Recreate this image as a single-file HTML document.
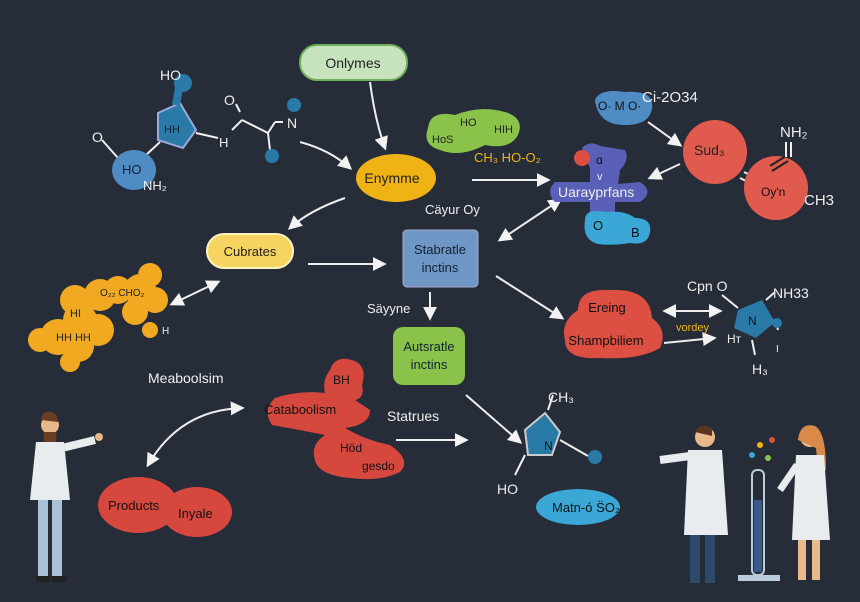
<!DOCTYPE html>
<html><head><meta charset="utf-8"><style>
html,body{margin:0;padding:0;background:#262d39;}
svg{display:block;font-family:"Liberation Sans",sans-serif;}
</style></head><body>
<svg width="860" height="602" viewBox="0 0 860 602" xmlns="http://www.w3.org/2000/svg">
<defs>
<marker id="a" viewBox="0 0 10 10" refX="8" refY="5" markerWidth="7" markerHeight="7" orient="auto-start-reverse"><path d="M0,0 L10,5 L0,10 z" fill="#f2f2f2"/></marker>
</defs>
<rect width="860" height="602" fill="#262d39"/>
<g stroke="#eee" stroke-width="2" fill="none" marker-end="url(#a)">
<path d="M370,82 Q375,120 385,148"/>
<path d="M300,142 Q330,150 350,168"/>
<path d="M345,198 Q310,210 290,228"/>
<path d="M472,180 L548,180"/>
<path d="M308,264 L384,264"/>
<path d="M430,292 L430,318"/>
<path d="M496,276 L562,318"/>
<path d="M665,311 L720,311" marker-start="url(#a)"/>
<path d="M664,343 L714,338"/>
<path d="M500,240 Q530,220 560,200" marker-start="url(#a)"/>
<path d="M172,304 L218,282" marker-start="url(#a)"/>
<path d="M242,408 Q180,410 148,465" marker-start="url(#a)"/>
<path d="M396,440 L466,440"/>
<path d="M466,395 L520,442"/>
<path d="M648,122 L680,145"/>
<path d="M680,164 L650,178"/>
</g>
<line x1="744" y1="172" x2="760" y2="180" stroke="#eee" stroke-width="2"/>
<line x1="740" y1="178" x2="756" y2="186" stroke="#eee" stroke-width="2"/>
<!-- Onlymes -->
<rect x="300" y="45" width="107" height="35" rx="17" fill="#c7e3bd" stroke="#6fae5a" stroke-width="2"/>
<text x="353" y="68" font-size="14" text-anchor="middle" fill="#222">Onlymes</text>
<ellipse cx="396" cy="178" rx="40" ry="24" fill="#f0b315"/>
<text x="392" y="183" font-size="14" text-anchor="middle" fill="#222">Enymme</text>
<text x="425" y="214" font-size="13" fill="#eee">Cäyur Oy</text>
<!-- HoS HIH -->
<path d="M428,128 Q430,110 455,115 Q480,105 505,112 Q525,118 518,135 Q510,150 485,145 Q460,158 440,150 Q422,145 428,128z" fill="#8bc34a"/>
<text x="432" y="143" font-size="11" fill="#222">HoS</text><text x="460" y="126" font-size="11" fill="#222">HO</text><text x="494" y="133" font-size="11" fill="#222">HIH</text>
<text x="474" y="162" font-size="13" fill="#f0b315">CH₃ HO-O₂</text>
<!-- top left molecule -->
<g stroke="#eee" stroke-width="2" fill="none">
<line x1="102" y1="140" x2="118" y2="158"/><line x1="146" y1="155" x2="160" y2="142"/>
<line x1="196" y1="133" x2="218" y2="138"/><line x1="232" y1="130" x2="242" y2="120"/>
<line x1="240" y1="112" x2="236" y2="104"/><line x1="242" y1="120" x2="268" y2="133"/>
<line x1="268" y1="133" x2="275" y2="122"/><line x1="275" y1="122" x2="283" y2="122"/>
<line x1="268" y1="133" x2="270" y2="150"/>
</g>
<path d="M158,113 L180,103 L196,130 L183,148 L158,140 z" fill="#2a7aa8" stroke="#9ad" stroke-width="2"/>
<path d="M176,105 L180,82" stroke="#2a7aa8" stroke-width="8"/>
<circle cx="183" cy="83" r="9" fill="#2a7aa8"/>
<text x="164" y="133" font-size="11" fill="#123">HH</text>
<text x="160" y="80" font-size="14" fill="#eee">HO</text>
<text x="92" y="142" font-size="14" fill="#eee">O</text>
<text x="224" y="105" font-size="14" fill="#eee">O</text>
<text x="219" y="147" font-size="13" fill="#eee">H</text>
<text x="287" y="128" font-size="14" fill="#eee">N</text>
<circle cx="294" cy="105" r="7" fill="#2a7aa8"/><circle cx="272" cy="156" r="7" fill="#2a7aa8"/>
<ellipse cx="134" cy="170" rx="22" ry="20" fill="#4f8cc4"/>
<text x="122" y="174" font-size="13" fill="#123">HO</text>
<text x="143" y="190" font-size="13" fill="#eee">NH₂</text>
<!-- Cubrates -->
<rect x="207" y="234" width="86" height="34" rx="17" fill="#f5d560" stroke="#fff3c0" stroke-width="2"/>
<text x="250" y="256" font-size="13" text-anchor="middle" fill="#222">Cubrates</text>
<!-- orange cluster -->
<g fill="#f1a921">
<circle cx="58" cy="337" r="18"/><circle cx="78" cy="346" r="16"/><circle cx="80" cy="320" r="17"/><circle cx="98" cy="330" r="16"/>
<circle cx="75" cy="300" r="15"/><circle cx="100" cy="295" r="16"/><circle cx="118" cy="290" r="14"/>
<circle cx="140" cy="290" r="16"/><circle cx="150" cy="275" r="12"/><circle cx="155" cy="300" r="13"/><circle cx="135" cy="312" r="13"/>
<circle cx="40" cy="340" r="12"/><circle cx="70" cy="362" r="10"/><circle cx="150" cy="330" r="8"/>
</g>
<text x="100" y="296" font-size="10" fill="#222">O₂₂ CHO₂</text>
<text x="70" y="317" font-size="11" fill="#222">HI</text>
<text x="56" y="341" font-size="11" fill="#222">HH HH</text>
<text x="162" y="334" font-size="10" fill="#eee">H</text>
<!-- Stabratle -->
<rect x="403" y="230" width="75" height="57" rx="4" fill="#6f97c6" stroke="#aac" stroke-width="1"/>
<text x="440" y="254" font-size="13" text-anchor="middle" fill="#123">Stabratle</text>
<text x="440" y="272" font-size="13" text-anchor="middle" fill="#123">inctins</text>
<text x="367" y="313" font-size="13" fill="#eee">Säyyne</text>
<rect x="393" y="327" width="72" height="58" rx="10" fill="#8bc34a"/>
<text x="429" y="351" font-size="13" text-anchor="middle" fill="#123">Autsratle</text>
<text x="429" y="369" font-size="13" text-anchor="middle" fill="#123">inctins</text>
<!-- Ereing -->
<path d="M578,310 Q578,288 610,290 Q650,288 652,318 Q668,330 660,348 Q640,360 600,358 Q565,360 565,340 Q560,322 578,310z" fill="#dc4f42"/>
<text x="607" y="312" font-size="13" text-anchor="middle" fill="#111">Ereing</text>
<text x="606" y="345" font-size="13" text-anchor="middle" fill="#111">Shampbiliem</text>
<text x="676" y="331" font-size="11" fill="#f0b315">vordey</text>
<!-- right molecule N -->
<text x="687" y="291" font-size="14" fill="#eee">Cpn O</text>
<text x="773" y="298" font-size="14" fill="#eee">NH33</text>
<path d="M738,310 L762,300 L775,322 L756,338 L734,328z" fill="#2a7aa8"/>
<text x="748" y="325" font-size="12" fill="#111">N</text>
<g stroke="#eee" stroke-width="2"><line x1="722" y1="295" x2="738" y2="308"/><line x1="766" y1="300" x2="775" y2="292"/><line x1="776" y1="322" x2="778" y2="330"/><line x1="752" y1="340" x2="755" y2="355"/></g>
<circle cx="777" cy="323" r="5" fill="#2a7aa8"/>
<text x="727" y="343" font-size="12" fill="#eee">Hᴛ</text>
<text x="752" y="374" font-size="14" fill="#eee">H₃</text>
<text x="776" y="352" font-size="10" fill="#eee">I</text>
<!-- top right -->
<path d="M595,100 Q600,88 625,92 Q655,90 652,108 Q650,125 625,125 Q598,125 595,100z" fill="#4f8cc4"/>
<text x="598" y="110" font-size="12" fill="#111">O· M O·</text>
<text x="642" y="102" font-size="15" fill="#eee">Ci-2O34</text>
<path d="M582,148 Q590,140 600,146 L625,150 Q630,160 620,170 L618,184 L640,182 Q655,192 640,202 L615,202 L615,215 L590,215 L590,202 L555,202 Q545,192 555,182 L590,182 L590,168 Z" fill="#5a60b8"/>
<circle cx="582" cy="158" r="8" fill="#dc4f42"/>
<text x="596" y="164" font-size="12" fill="#111">ɑ</text>
<text x="597" y="180" font-size="11" fill="#eee">v</text>
<text x="558" y="197" font-size="14" fill="#eee">Uarayprfans</text>
<path d="M585,220 Q585,208 605,212 Q625,210 635,218 Q652,218 650,232 Q648,246 630,243 Q612,246 598,244 Q582,240 585,220z" fill="#3aa7d6"/>
<text x="593" y="230" font-size="13" fill="#111">O</text><text x="631" y="237" font-size="13" fill="#111">B</text>
<circle cx="715" cy="152" r="32" fill="#e05a4e"/>
<text x="694" y="155" font-size="14" fill="#222">Sud₃</text>
<circle cx="776" cy="188" r="32" fill="#e05a4e"/>
<g stroke="#222" stroke-width="2"><line x1="770" y1="166" x2="786" y2="156"/><line x1="772" y1="171" x2="788" y2="161"/></g>
<text x="761" y="196" font-size="12" fill="#111">Oy'n</text>
<text x="780" y="137" font-size="15" fill="#eee">NH₂</text>
<g stroke="#eee" stroke-width="2"><line x1="786" y1="142" x2="786" y2="157"/><line x1="791" y1="142" x2="791" y2="157"/></g>
<text x="804" y="205" font-size="15" fill="#eee">CH3</text>
<!-- Catabolism -->
<text x="148" y="383" font-size="14" fill="#eee">Meaboolsim</text>
<path d="M330,370 Q335,355 352,360 Q368,365 362,385 Q365,398 355,400 L370,410 Q370,425 345,428 Q365,440 390,445 Q412,460 400,472 Q380,482 350,478 Q318,475 315,460 Q310,445 325,435 Q300,430 272,425 Q262,410 275,398 Q300,390 325,393 Q322,380 330,370z" fill="#d6473e"/>
<text x="333" y="384" font-size="12" fill="#111">BH</text>
<text x="264" y="414" font-size="13" fill="#111">Cataboolism</text>
<text x="340" y="452" font-size="12" fill="#111">Höd</text>
<text x="362" y="470" font-size="12" fill="#111">gesdo</text>
<text x="387" y="421" font-size="14" fill="#eee">Statrues</text>
<ellipse cx="138" cy="505" rx="40" ry="28" fill="#d6473e"/>
<ellipse cx="197" cy="512" rx="35" ry="25" fill="#d6473e"/>
<text x="108" y="510" font-size="13" fill="#111">Products</text>
<text x="178" y="518" font-size="13" fill="#111">Inyale</text>
<!-- bottom right molecule -->
<text x="548" y="402" font-size="14" fill="#eee">CH₃</text>
<path d="M525,430 L545,413 L560,432 L552,455 L528,455z" fill="#2a7aa8" stroke="#ccc" stroke-width="2"/>
<text x="544" y="450" font-size="12" fill="#111">N</text>
<g stroke="#eee" stroke-width="2"><line x1="548" y1="410" x2="553" y2="395"/><line x1="560" y1="440" x2="588" y2="456"/><line x1="525" y1="455" x2="515" y2="475"/></g>
<circle cx="595" cy="457" r="7" fill="#2a7aa8"/>
<text x="497" y="494" font-size="14" fill="#eee">HO</text>
<ellipse cx="578" cy="507" rx="42" ry="18" fill="#3aa7d6"/>
<text x="552" y="512" font-size="13" fill="#111">Matn-ó S̈O₂</text>
<!-- scientist left -->
<circle cx="50" cy="425" r="9" fill="#e8b98a"/>
<path d="M41,420 Q42,410 52,412 Q58,415 58,422" fill="#6a3e22"/>
<path d="M44,432 Q42,445 52,448 Q58,445 56,432" fill="#6a3e22"/>
<path d="M36,442 L64,442 L70,500 L30,500 Z" fill="#e8ecef"/>
<path d="M62,448 L95,440" stroke="#e8ecef" stroke-width="8"/>
<circle cx="99" cy="437" r="4" fill="#e8b98a"/>
<rect x="38" y="500" width="10" height="78" fill="#a8c0d8"/><rect x="52" y="500" width="10" height="78" fill="#a8c0d8"/>
<rect x="36" y="576" width="14" height="6" fill="#222"/><rect x="52" y="576" width="14" height="6" fill="#222"/>
<!-- right scientists -->
<circle cx="705" cy="437" r="10" fill="#e8b98a"/>
<path d="M695,432 Q700,422 712,428 L712,436 Z" fill="#5a3520"/>
<path d="M688,450 L722,450 L728,535 L684,535 Z" fill="#e8ecef"/>
<path d="M690,456 L660,460" stroke="#e8ecef" stroke-width="8"/>
<rect x="690" y="535" width="10" height="48" fill="#2d4a6a"/><rect x="705" y="535" width="10" height="48" fill="#2d4a6a"/>
<circle cx="810" cy="437" r="10" fill="#e8b98a"/>
<path d="M798,440 Q800,422 815,426 Q826,432 826,470 L818,470 L816,448 Z" fill="#d98a4a"/>
<path d="M796,455 L824,455 L830,540 L792,540 Z" fill="#e8ecef"/>
<path d="M797,465 L780,490" stroke="#e8ecef" stroke-width="7"/>
<rect x="798" y="540" width="8" height="40" fill="#e8b98a"/><rect x="812" y="540" width="8" height="40" fill="#e8b98a"/>
<rect x="752" y="470" width="12" height="105" rx="5" fill="none" stroke="#bcd" stroke-width="2"/>
<rect x="754" y="500" width="8" height="72" fill="#3a5a8a"/>
<rect x="738" y="575" width="42" height="6" fill="#bcd"/>
<circle cx="760" cy="445" r="3" fill="#f0b315"/><circle cx="772" cy="440" r="3" fill="#dc4f42"/><circle cx="752" cy="455" r="3" fill="#3aa7d6"/><circle cx="768" cy="458" r="3" fill="#8bc34a"/>
</svg>
</body></html>
